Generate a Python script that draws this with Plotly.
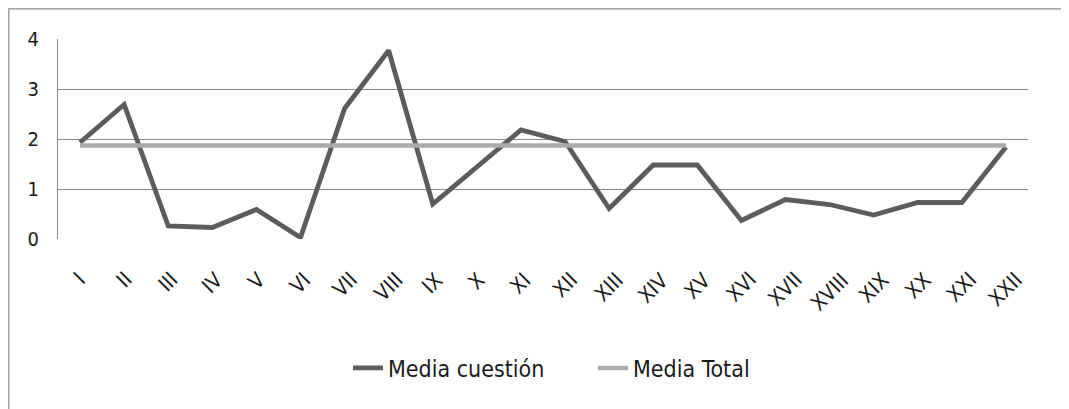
import plotly.graph_objects as go

categories = ["I", "II", "III", "IV", "V", "VI", "VII", "VIII", "IX", "X", "XI",
              "XII", "XIII", "XIV", "XV", "XVI", "XVII", "XVIII", "XIX", "XX", "XXI", "XXII"]
media_cuestion = [1.93, 2.69, 0.26, 0.23, 0.59, 0.03, 2.61, 3.77, 0.70, 1.45, 2.18,
                  1.95, 0.61, 1.48, 1.48, 0.37, 0.79, 0.69, 0.48, 0.73, 0.73, 1.84]
media_total = [1.87] * len(categories)
y_ticks = [0, 1, 2, 3, 4]

FONT = "DejaVu Sans Condensed, Liberation Sans Narrow, Arial Narrow, sans-serif"
# page has an 8px body margin, so the figure is drawn 8px right/down
OFF = 8
W, H = 1069 - OFF, 409 - OFF
ML, MR, MT = 58 - OFF, 41, 39 - OFF
PH = 200
MB = H - MT - PH
PW = W - ML - MR


def py(screen_y):
    """paper y from screen y"""
    return (MT + PH - (screen_y - OFF)) / PH


def px(screen_x):
    return (screen_x - OFF - ML) / PW


fig = go.Figure()
fig.add_trace(go.Scatter(x=categories, y=media_cuestion, mode="lines",
                         name="Media cuestión",
                         line=dict(color="#5c5c5c", width=4.8)))
fig.add_trace(go.Scatter(x=categories, y=media_total, mode="lines",
                         name="Media Total",
                         line=dict(color="#ababab", width=4.5)))

# x category labels, centred under each category, rotated
for c in categories:
    fig.add_annotation(x=c, xref="x", y=py(265), yref="paper", text=c,
                       textangle=-45, showarrow=False,
                       xanchor="center", yanchor="top",
                       font=dict(family=FONT, size=21, color="#1a1a1a"))

# outer chart border
fig.add_shape(type="rect", xref="paper", yref="paper",
              x0=px(8.8), x1=px(1120), y0=py(8.8), y1=py(460),
              line=dict(color="#8c8c8c", width=1.2), layer="below")

fig.update_layout(
    width=W, height=H,
    margin=dict(l=ML, r=MR, t=MT, b=MB),
    paper_bgcolor="white", plot_bgcolor="white",
    font=dict(family=FONT, color="#1a1a1a"),
    showlegend=True,
    legend=dict(orientation="h", x=px(348), xanchor="left",
                y=py(368), yanchor="middle",
                font=dict(family=FONT, size=23, color="#1a1a1a"),
                bgcolor="rgba(0,0,0,0)", traceorder="normal",
                entrywidth=200, entrywidthmode="pixels"),
    xaxis=dict(type="category", categoryorder="array", categoryarray=categories,
               range=[-0.5, len(categories) - 0.5],
               showticklabels=False, showgrid=False, zeroline=False,
               showline=False, ticks=""),
    yaxis=dict(range=[0, 4], tickvals=y_ticks, ticktext=[str(v) for v in y_ticks],
               showgrid=True, gridcolor="#8a8a8a", gridwidth=1.3,
               zeroline=False, showline=True, linecolor="#8a8a8a", linewidth=1.3,
               ticks="", ticklabelstandoff=14,
               tickfont=dict(family=FONT, size=20, color="#1a1a1a")),
)

fig.write_html("out.html")
